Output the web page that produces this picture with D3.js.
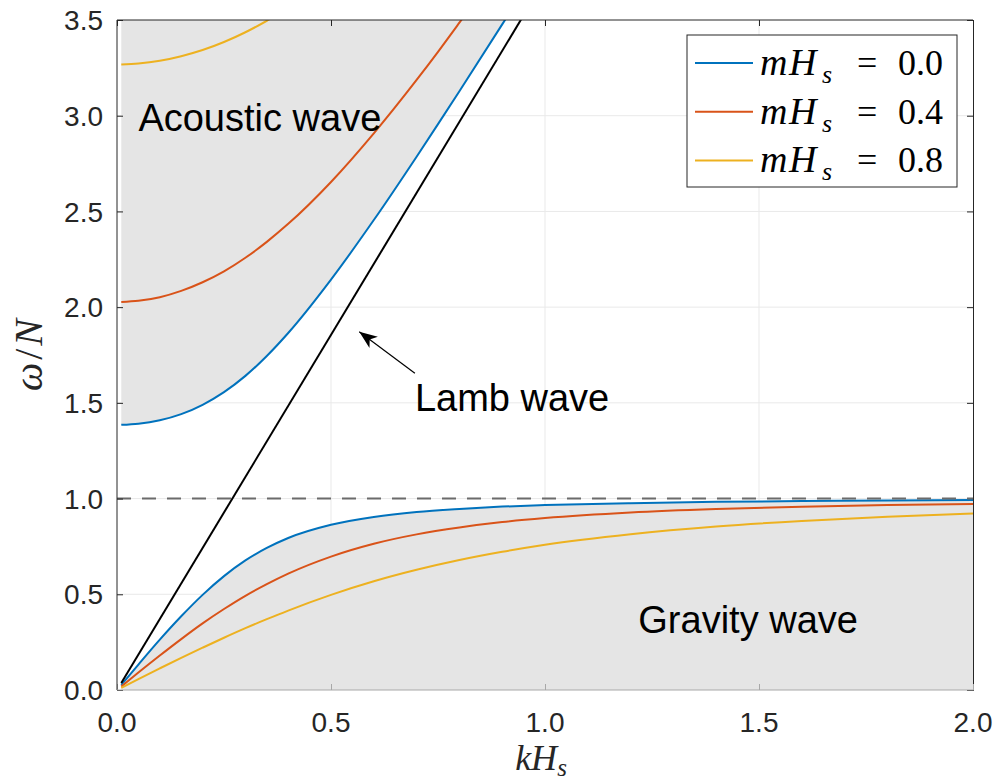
<!DOCTYPE html>
<html>
<head>
<meta charset="utf-8">
<script src="https://cdn.jsdelivr.net/npm/d3@7"></script>
<style>
body { margin: 0; background: #fff; }
</style>
</head>
<body>
<svg id="chart"></svg>
<script>
// kH_s sample points for the gravity branch
var kGrid = [0.01, 0.05, 0.1, 0.15, 0.2, 0.25, 0.3, 0.35, 0.4, 0.5, 0.6, 0.7, 0.8, 0.9, 1.0, 1.2, 1.4, 1.6, 1.8, 2.0];
var gravity00 = [0.027, 0.133, 0.263, 0.385, 0.497, 0.595, 0.677, 0.742, 0.794, 0.863, 0.904, 0.930, 0.946, 0.958, 0.966, 0.976, 0.983, 0.987, 0.990, 0.993];
var gravity04 = [0.018, 0.091, 0.180, 0.266, 0.348, 0.423, 0.492, 0.553, 0.608, 0.697, 0.764, 0.813, 0.849, 0.877, 0.898, 0.927, 0.945, 0.957, 0.966, 0.972];
var gravity08 = [0.011, 0.057, 0.113, 0.168, 0.221, 0.273, 0.323, 0.370, 0.415, 0.497, 0.568, 0.628, 0.679, 0.722, 0.759, 0.814, 0.854, 0.883, 0.905, 0.922];

// acoustic branch (leaves the top of the axes)
var acousticK00 = [0.01, 0.05, 0.1, 0.15, 0.2, 0.25, 0.3, 0.35, 0.4, 0.5, 0.6, 0.7, 0.75, 0.8, 0.9, 0.95];
var acoustic00  = [1.385, 1.391, 1.409, 1.441, 1.490, 1.556, 1.641, 1.745, 1.865, 2.144, 2.455, 2.786, 2.956, 3.128, 3.477, 3.653];
var acousticK04 = [0.01, 0.05, 0.1, 0.15, 0.2, 0.25, 0.3, 0.35, 0.4, 0.5, 0.6, 0.7, 0.75, 0.8, 0.85];
var acoustic04  = [2.027, 2.033, 2.052, 2.085, 2.130, 2.187, 2.258, 2.341, 2.435, 2.654, 2.908, 3.187, 3.334, 3.486, 3.640];
var acousticK08 = [0.01, 0.05, 0.1, 0.15, 0.2, 0.25, 0.3, 0.35, 0.4];
var acoustic08  = [3.268, 3.273, 3.287, 3.311, 3.343, 3.385, 3.436, 3.496, 3.563];

// Lamb wave line
var lambK = [0.01, 1.0];
var lambW = [0.037, 3.71];

var xTicks = [0, 0.5, 1.0, 1.5, 2.0];
var yTicks = [0, 0.5, 1.0, 1.5, 2.0, 2.5, 3.0, 3.5];
var mValues = ["0.0", "0.4", "0.8"];
var colors = ["#0072BD", "#D95319", "#EDB120"];

var svg = d3.select("#chart").attr("width", 997).attr("height", 780),
    margin = {top: 20, right: 24, bottom: 90, left: 117},
    width = +svg.attr("width") - margin.left - margin.right,
    height = +svg.attr("height") - margin.top - margin.bottom;

var x = d3.scaleLinear().domain([0, 2]).range([0, width]);
var y = d3.scaleLinear().domain([0, 3.5]).range([height, 0]);

function zip(ks, ws) {
	return ks.map(function(k, i) { return {k: k, w: ws[i]}; });
}

var gravity = [zip(kGrid, gravity00), zip(kGrid, gravity04), zip(kGrid, gravity08)];
var acoustic = [zip(acousticK00, acoustic00), zip(acousticK04, acoustic04), zip(acousticK08, acoustic08)];
var lamb = zip(lambK, lambW);

var g = svg.append("g")
	.attr("transform", "translate(" + margin.left + "," + margin.top + ")");

svg.append("defs").append("clipPath")
	.attr("id", "plotClip")
	.append("rect")
	.attr("width", width)
	.attr("height", height);

// grid
g.append("g").selectAll("line")
	.data(xTicks.slice(1, -1))
	.enter().append("line")
	.attr("x1", function(d) { return x(d); })
	.attr("x2", function(d) { return x(d); })
	.attr("y1", 0).attr("y2", height)
	.attr("stroke", "#e9e9e9");

g.append("g").selectAll("line")
	.data(yTicks.slice(1, -1))
	.enter().append("line")
	.attr("y1", function(d) { return y(d); })
	.attr("y2", function(d) { return y(d); })
	.attr("x1", 0).attr("x2", width)
	.attr("stroke", "#e9e9e9");

// right axis sits under the shading
var rightAxis = g.append("g")
	.attr("transform", "translate(" + width + ",0)")
	.call(d3.axisLeft(y).tickValues(yTicks).tickSize(6).tickFormat(""));
rightAxis.select(".domain").attr("stroke", "#262626");
rightAxis.selectAll(".tick line").attr("stroke", "#262626");

var plot = g.append("g").attr("clip-path", "url(#plotClip)");

// shaded regions
plot.append("path")
	.datum(acoustic[0])
	.attr("fill", "#e5e5e5")
	.attr("d", d3.area()
		.x(function(d) { return x(d.k); })
		.y0(function(d) { return y(d.w); })
		.y1(y(3.6))
		.curve(d3.curveMonotoneX));

plot.append("path")
	.datum(gravity[0])
	.attr("fill", "#e5e5e5")
	.attr("d", d3.area()
		.x(function(d) { return x(d.k); })
		.y0(y(0))
		.y1(function(d) { return y(d.w); })
		.curve(d3.curveMonotoneX));

// N line
g.append("line")
	.attr("x1", 0).attr("x2", width)
	.attr("y1", y(1)).attr("y2", y(1))
	.attr("stroke", "#6b6b6b")
	.attr("stroke-width", 2)
	.attr("stroke-dasharray", "14,11");

var line = d3.line()
	.x(function(d) { return x(d.k); })
	.y(function(d) { return y(d.w); })
	.curve(d3.curveMonotoneX);

plot.selectAll(".grav")
	.data(gravity)
	.enter().append("path")
	.attr("class", "grav")
	.attr("fill", "none")
	.attr("stroke-width", 2)
	.attr("stroke", function(d, i) { return colors[i]; })
	.attr("d", line);

plot.selectAll(".acou")
	.data(acoustic)
	.enter().append("path")
	.attr("class", "acou")
	.attr("fill", "none")
	.attr("stroke-width", 2)
	.attr("stroke", function(d, i) { return colors[i]; })
	.attr("d", line);

plot.append("path")
	.datum(lamb)
	.attr("fill", "none")
	.attr("stroke", "#000")
	.attr("stroke-width", 2)
	.attr("d", d3.line().x(function(d) { return x(d.k); }).y(function(d) { return y(d.w); }));

// axes
var leftAxis = g.append("g")
	.call(d3.axisRight(y).tickValues(yTicks).tickSize(6).tickFormat(""));
leftAxis.select(".domain").remove();
leftAxis.selectAll(".tick line").attr("stroke", "#262626");

var topAxis = g.append("g")
	.call(d3.axisBottom(x).tickValues(xTicks).tickSize(6).tickFormat(""));
topAxis.select(".domain").remove();
topAxis.selectAll(".tick line").attr("stroke", "#262626");

var botAxis = g.append("g")
	.attr("transform", "translate(0," + height + ")")
	.call(d3.axisTop(x).tickValues(xTicks).tickSize(6).tickFormat(""));
botAxis.select(".domain").remove();
botAxis.selectAll(".tick line").attr("stroke", "#a8a8a8");

g.append("line").attr("x1", 0).attr("x2", 0).attr("y1", 0).attr("y2", height)
	.attr("stroke", "#262626");
g.append("line").attr("x1", 0).attr("x2", width).attr("y1", 0).attr("y2", 0)
	.attr("stroke", "#262626");
g.append("line").attr("x1", 0).attr("x2", width).attr("y1", height).attr("y2", height)
	.attr("stroke", "#a8a8a8");

// tick labels
g.selectAll(".ylab")
	.data(yTicks)
	.enter().append("text")
	.attr("class", "ylab")
	.attr("x", -14)
	.attr("y", function(d) { return y(d); })
	.attr("dy", "0.36em")
	.attr("text-anchor", "end")
	.attr("font-family", "Liberation Sans, Arial, sans-serif")
	.attr("font-size", 28)
	.attr("fill", "#262626")
	.text(function(d) { return d.toFixed(1); });

g.selectAll(".xlab")
	.data(xTicks)
	.enter().append("text")
	.attr("class", "xlab")
	.attr("x", function(d) { return x(d); })
	.attr("y", height + 42)
	.attr("text-anchor", "middle")
	.attr("font-family", "Liberation Sans, Arial, sans-serif")
	.attr("font-size", 28)
	.attr("fill", "#262626")
	.text(function(d) { return d.toFixed(1); });

// axis titles
var xTitle = svg.append("text")
	.attr("x", margin.left + width / 2 - 4)
	.attr("y", 770)
	.attr("text-anchor", "middle")
	.attr("font-family", "Liberation Serif, Times New Roman, serif")
	.attr("font-style", "italic")
	.attr("font-size", 36)
	.attr("fill", "#262626");
xTitle.append("tspan").text("kH");
xTitle.append("tspan").attr("font-size", 25).attr("dy", 6).text("s");

svg.append("text")
	.attr("transform", "translate(42," + (margin.top + height / 2) + ") rotate(-90)")
	.attr("text-anchor", "middle")
	.attr("font-family", "Liberation Serif, Times New Roman, serif")
	.attr("font-size", 40)
	.attr("fill", "#262626")
	.html('<tspan font-style="italic">ω</tspan><tspan dx="3">/</tspan><tspan dx="3" font-style="italic">N</tspan>');

// annotations
var font = "Liberation Sans, Arial, sans-serif";
g.append("text").attr("x", x(0.05)).attr("y", y(2.92))
	.attr("font-family", font).attr("font-size", 38).text("Acoustic wave");
g.append("text").attr("x", x(1.218)).attr("y", y(0.299))
	.attr("font-family", font).attr("font-size", 38).text("Gravity wave");
g.append("text").attr("x", x(0.696)).attr("y", y(1.455))
	.attr("font-family", font).attr("font-size", 38).text("Lamb wave");

svg.select("defs").append("marker")
	.attr("id", "head")
	.attr("markerUnits", "userSpaceOnUse")
	.attr("markerWidth", 20).attr("markerHeight", 20)
	.attr("viewBox", "0 0 20 20")
	.attr("refX", 18).attr("refY", 10)
	.attr("orient", "auto")
	.append("path")
	.attr("d", "M0,3 L18,10 L0,17 L5,10 Z")
	.attr("fill", "#000");

g.append("line")
	.attr("x1", x(0.696)).attr("y1", y(1.655))
	.attr("x2", x(0.566)).attr("y2", y(1.872))
	.attr("stroke", "#000")
	.attr("stroke-width", 1.2)
	.attr("marker-end", "url(#head)");

// legend
var legend = svg.append("g").attr("transform", "translate(687,35)");
legend.append("rect")
	.attr("width", 270).attr("height", 152)
	.attr("fill", "#fff")
	.attr("stroke", "#262626");

var rows = legend.selectAll(".row")
	.data(mValues)
	.enter().append("g")
	.attr("class", "row")
	.attr("transform", function(d, i) { return "translate(0," + (28 + i * 48.7) + ")"; });

rows.append("line")
	.attr("x1", 8).attr("x2", 66)
	.attr("stroke-width", 2)
	.attr("stroke", function(d, i) { return colors[i]; });

var serif = "Liberation Serif, Times New Roman, serif";
rows.append("text")
	.attr("x", 73).attr("y", 12)
	.attr("font-family", serif)
	.attr("font-style", "italic")
	.attr("font-size", 38)
	.text("m");
rows.append("text")
	.attr("x", 102).attr("y", 12)
	.attr("font-family", serif)
	.attr("font-style", "italic")
	.attr("font-size", 38)
	.text("H");
rows.append("text")
	.attr("x", 135).attr("y", 20)
	.attr("font-family", serif)
	.attr("font-style", "italic")
	.attr("font-size", 26)
	.text("s");
rows.append("text")
	.attr("x", 170).attr("y", 12)
	.attr("font-family", serif)
	.attr("font-size", 36)
	.text("=");
rows.append("text")
	.attr("x", 211).attr("y", 12)
	.attr("font-family", serif)
	.attr("font-size", 36)
	.text(function(d) { return d; });
</script>
</body>
</html>
